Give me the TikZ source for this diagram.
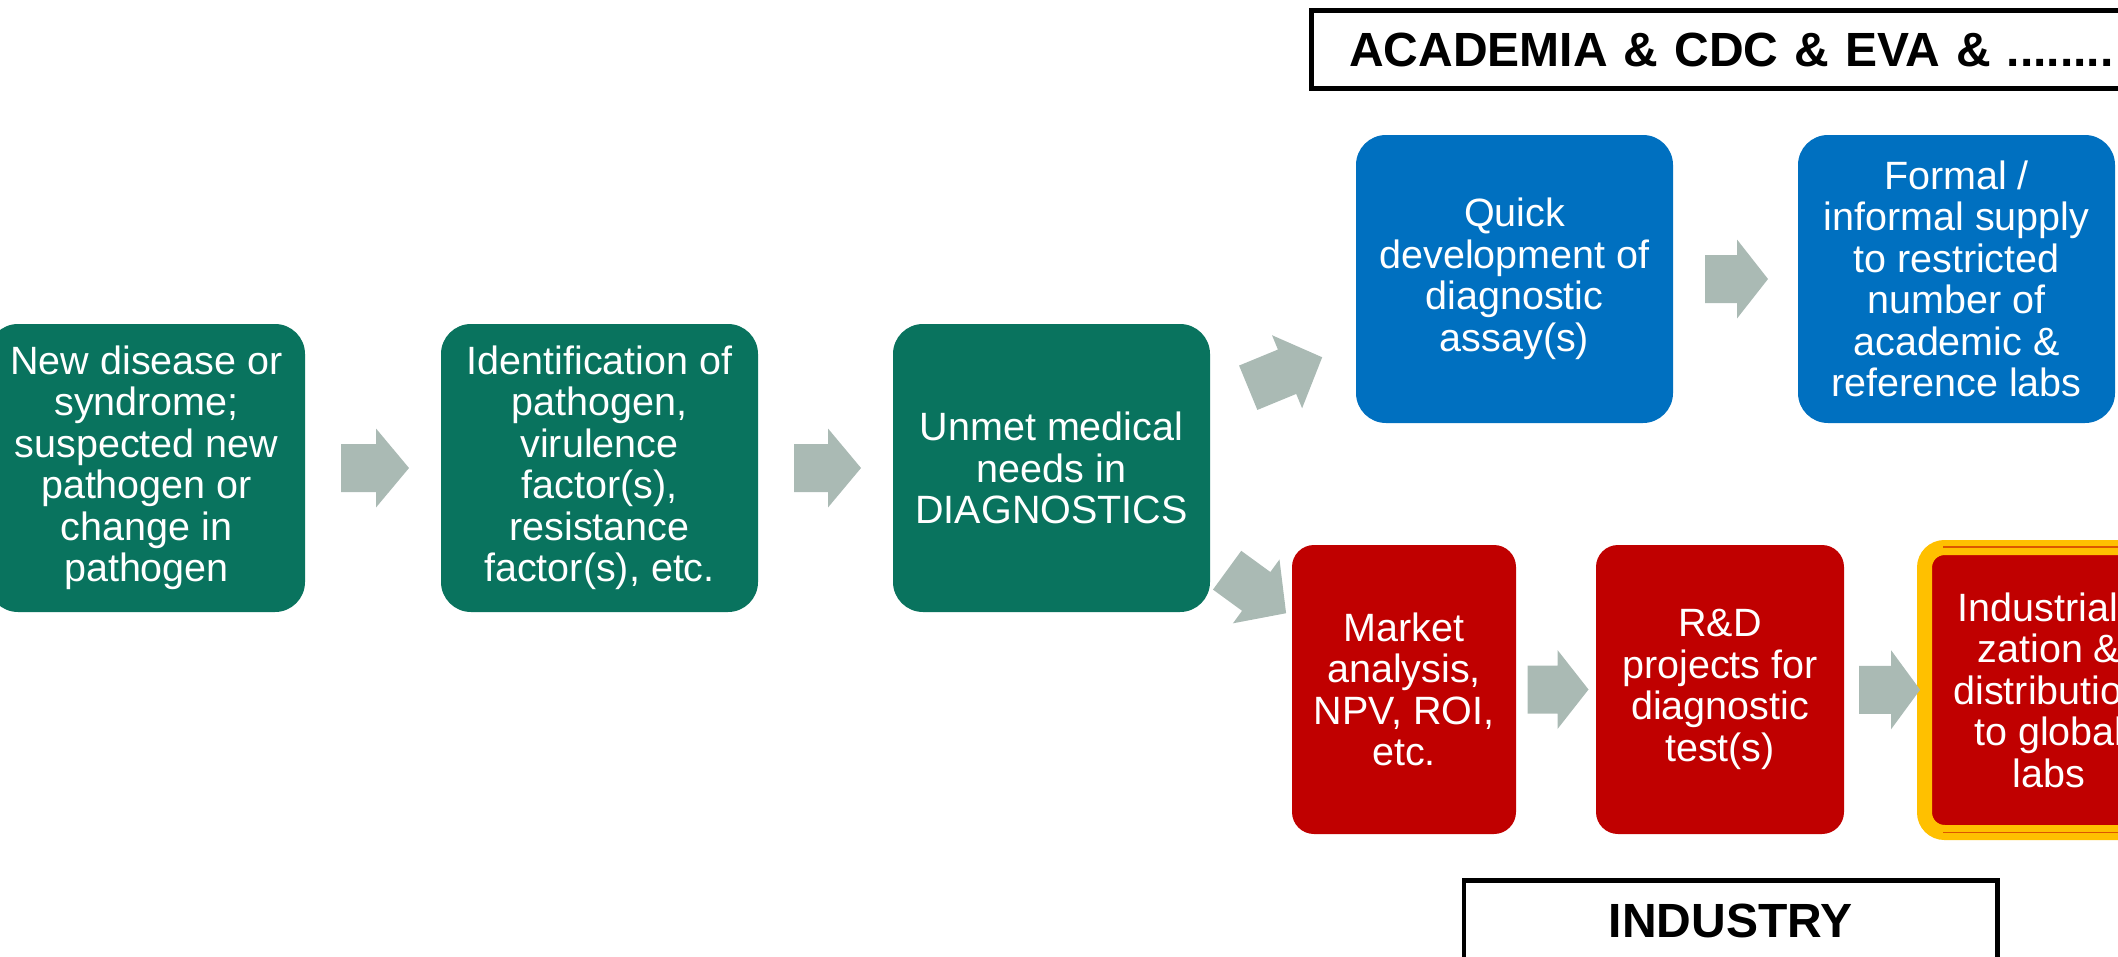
\documentclass[tikz,border=0pt]{standalone}
\usepackage{fontspec}
\setmainfont{Liberation Sans}
\usetikzlibrary{calc}
\definecolor{boxgreen}{RGB}{9,115,94}
\definecolor{boxblue}{RGB}{0,112,192}
\definecolor{boxred}{RGB}{192,0,0}
\definecolor{boxyellow}{RGB}{255,192,0}
\definecolor{arrowgray}{RGB}{170,186,180}
\tikzset{
  pics/blockarrow/.style 2 args={code={
    \fill[arrowgray] (-#1/2,-24) -- (#1/2-#2,-24) -- (#1/2-#2,-39.5) -- (#1/2,0)
      -- (#1/2-#2,39.5) -- (#1/2-#2,24) -- (-#1/2,24) -- cycle;
  }}
}
\begin{document}
\begin{tikzpicture}[x=1pt,y=-1pt,
  proc/.style={rounded corners=30, minimum width=317, minimum height=288, inner sep=0,
    text=white, align=center, font=\fontsize{39.5}{41.5}\selectfont},
  greenbox/.style={proc, fill=boxgreen},
  bluebox/.style={proc, fill=boxblue},
  redbox/.style={proc, fill=boxred, rounded corners=22, minimum height=289},
  labelbox/.style={draw=black, line width=4.5, fill=white, inner sep=0,
    font=\fontsize{48}{52}\selectfont\bfseries},
  thinline/.style={draw=boxred!55!boxyellow, line width=1.5}
]
\useasboundingbox (0,0) rectangle (2118,956);
\clip (0,0) rectangle (2118,956);

% green chain
\node[greenbox] (g1) at (146.5,468) {New disease or\\syndrome;\\suspected new\\pathogen or\\change in\\pathogen};
\node[greenbox] (g2) at (599.5,468) {Identification of\\pathogen,\\virulence\\factor(s),\\resistance\\factor(s), etc.};
\node[greenbox] (g3) at (1051.5,468) {Unmet medical\\needs in\\DIAGNOSTICS};

% blue chain
\node[bluebox] (b1) at (1514.5,279) {Quick\\development of\\diagnostic\\assay(s)};
\node[bluebox] (b2) at (1956.5,279) {Formal /\\informal supply\\to restricted\\number of\\academic \&\\reference labs};

% red chain
\node[redbox, minimum width=224] (r1) at (1404,689.5) {Market\\analysis,\\NPV, ROI,\\etc.};
\node[redbox, minimum width=248] (r2) at (1720,689.5) {R\&D\\projects for\\diagnostic\\test(s)};
\node[redbox, minimum width=249, minimum height=285, rounded corners=20,
      draw=boxyellow, line width=15] (r3) at (2049,690)
      {Industriali-\\zation \&\\distribution\\to global\\labs};
\coordinate (t1a) at (1943,547);
\coordinate (t1b) at (2118,547);
\coordinate (t2a) at (1943,832.5);
\coordinate (t2b) at (2118,832.5);
\draw[thinline] (t1a) -- (t1b);
\draw[thinline] (t2a) -- (t2b);

% labels
\node[labelbox, anchor=west, text width=784, align=left, inner xsep=38,
      minimum height=78] (acad) at (1309,49.5) {ACADEMIA \& CDC \& EVA \& ........};
\node[labelbox, minimum width=533.5, minimum height=80] (ind) at (1730.5,920.5) {INDUSTRY};

% block arrows
\pic at ($(g1.east)!0.5!(g2.west)+(2,0)$) {blockarrow={68}{33}};
\pic at ($(g2.east)!0.5!(g3.west)+(2,0)$) {blockarrow={67}{33}};
\pic at ($(b1.east)!0.5!(b2.west)+(1,0)$) {blockarrow={63}{31}};
\pic at ($(r1.east)!0.5!(r2.west)+(2,0)$) {blockarrow={61}{31}};
\pic at ($(r2.east)!0.5!(r3.west)+(9,0)$) {blockarrow={61}{29}};
\pic[rotate=22.4] at ($(g3.east)+(75,-95.5)$) {blockarrow={80}{38}};
\pic[rotate=-36.1] at ($(g3.east)+(46.4,123.7)$) {blockarrow={73}{37}};
\end{tikzpicture}
\end{document}
